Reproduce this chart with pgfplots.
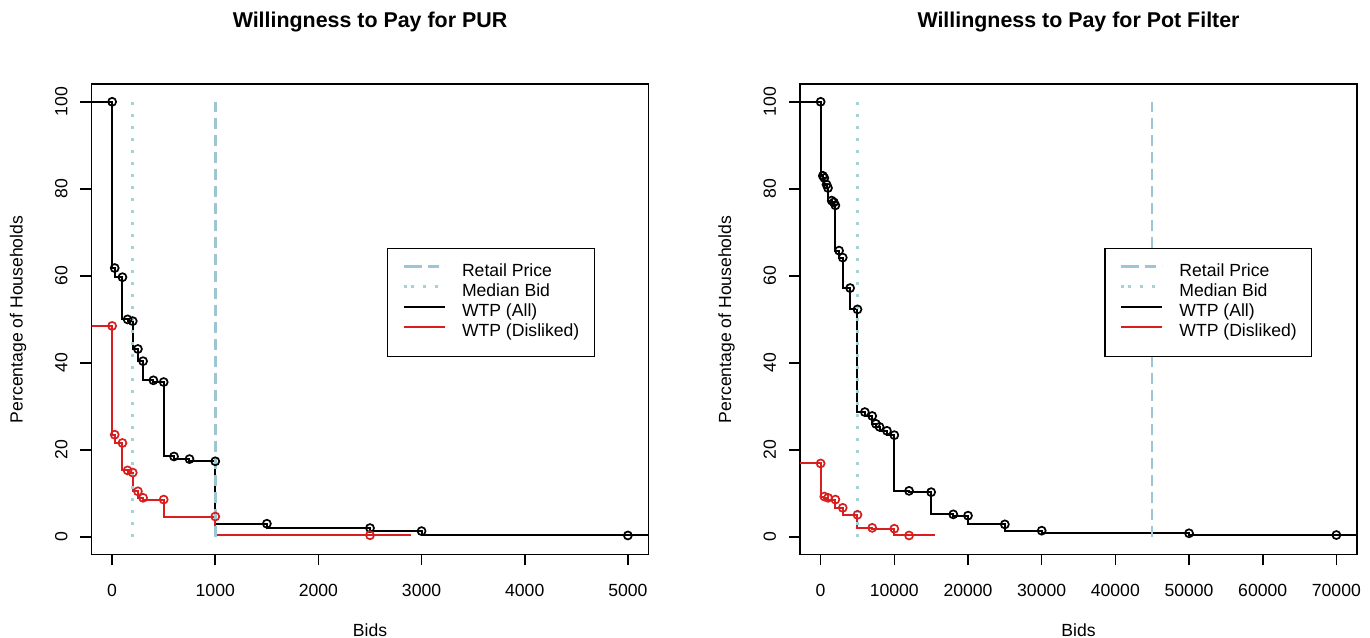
\documentclass[border=0pt]{standalone}
\usepackage{fontspec}
\setmainfont{Liberation Sans}
\usepackage{pgfplots}
\pgfplotsset{compat=1.18}

\definecolor{retailblue}{HTML}{9DC6D2}
\definecolor{medianblue}{HTML}{A3D3D6}
\definecolor{wtpred}{HTML}{D81E1E}

\pgfplotsset{
  wtpbase/.style={
    scale only axis, width=278.5pt, height=235pt,
    anchor=south west,
    ymin=-4, ymax=104, ytick={0,20,40,60,80,100},
    tick pos=left, tick align=outside,
    major tick length=5.5pt,
    every tick/.style={black, line width=0.8pt},
    axis line style={line width=0.9pt},
    font=\fontsize{8.8}{10.5}\selectfont,
    /pgf/number format/assume math mode=true,
    /pgf/number format/1000 sep={},
    scaled x ticks=false,
    xticklabel style={inner sep=0pt},
    xticklabel shift=9pt,
    yticklabel style={rotate=90, anchor=south, inner sep=0pt},
    yticklabel shift=6.3pt,
    xlabel={Bids}, ylabel={Percentage of Households},
    x label style={at={(axis description cs:0.5,0)}, anchor=center, yshift=-37.8pt},
    y label style={at={([xshift=-36.75pt]axis description cs:0,0.5)}, anchor=center},
    title style={at={(axis description cs:0.5,1)}, anchor=center, yshift=25.15pt,
                 font=\fontsize{10.7}{12}\selectfont\bfseries},
    legend style={anchor=north west, draw=black, line width=0.7pt,
                  inner xsep=7.5pt, inner ysep=7pt, row sep=0pt, column sep=8pt,
                  font=\fontsize{8.8}{10.5}\selectfont,
                  nodes={inner sep=0pt, text height=6.7pt, text depth=3.3pt, anchor=west}},
    legend cell align=left,
    legend image code/.code={
      \path (0pt,3pt) -- (3.5pt,3pt);
      \draw[##1] (3.5pt,3pt) -- (20.5pt,3pt);
    },
    legend entries={Retail Price, Median Bid, WTP (All), WTP (Disliked)},
  },
  retail/.style={retailblue, line width=1.3pt, dash pattern=on 5.5pt off 3pt},
  median/.style={medianblue, line width=1.3pt, dash pattern=on 1.4pt off 4.6pt},
  allline/.style={black, line width=1pt},
  disline/.style={wtpred, line width=1pt},
  stepline/.style={const plot mark right, mark=none, forget plot},
  stepmarks/.style={only marks, mark=o, mark size=2pt,
                    mark options={line width=0.85pt}, forget plot},
}

\begin{document}
\begin{tikzpicture}
\path[use as bounding box] (0,0) rectangle (685pt,318.5pt);

% ---- left: PUR ----
\begin{axis}[wtpbase, at={(45.75pt,41.3pt)},
  xmin=-200, xmax=5200, xtick={0,1000,2000,3000,4000,5000},
  title={Willingness to Pay for PUR},
  legend style={at={(0.530,0.652)}}]
\addlegendimage{retail}
\addlegendimage{median}
\addlegendimage{allline}
\addlegendimage{disline}

\addplot[allline, stepline] coordinates {
  (-400,100) (0,100) (25,61.8) (100,59.7) (150,50.0) (200,49.6) (250,43.2)
  (300,40.4) (400,36.0) (500,35.6) (600,18.5) (750,17.9) (1000,17.4)
  (1500,3.05) (2500,2.05) (3000,1.35) (5000,0.35) (6000,0.35)};
\addplot[black, stepmarks] coordinates {
  (0,100) (25,61.8) (100,59.7) (150,50.0) (200,49.6) (250,43.2)
  (300,40.4) (400,36.0) (500,35.6) (600,18.5) (750,17.9) (1000,17.4)
  (1500,3.05) (2500,2.05) (3000,1.35) (5000,0.35)};

\addplot[disline, stepline] coordinates {
  (-400,48.5) (0,48.5) (25,23.5) (100,21.6) (150,15.3) (200,14.8) (250,10.5)
  (300,9.0) (500,8.6) (1000,4.7) (2500,0.4) (2900,0.4)};
\addplot[wtpred, stepmarks] coordinates {
  (0,48.5) (25,23.5) (100,21.6) (150,15.3) (200,14.8) (250,10.5)
  (300,9.0) (500,8.6) (1000,4.7) (2500,0.4)};

\addplot[retail, forget plot] coordinates {(1000,0) (1000,100)};
\addplot[median, forget plot] coordinates {(200,0) (200,100)};
\end{axis}

% ---- right: Pot Filter ----
\begin{axis}[wtpbase, at={(400pt,41.3pt)},
  xmin=-2800, xmax=72800, xtick={0,10000,20000,30000,40000,50000,60000,70000},
  title={Willingness to Pay for Pot Filter},
  legend style={at={(0.546,0.652)}}]
\addlegendimage{retail}
\addlegendimage{median}
\addlegendimage{allline}
\addlegendimage{disline}

\addplot[allline, stepline] coordinates {
  (-5000,100) (0,100) (300,83.0) (500,82.5) (800,81.0) (1000,80.2) (1500,77.3)
  (1800,76.9) (2000,76.2) (2500,65.8) (3000,64.2) (4000,57.2) (5000,52.3)
  (6000,28.7) (7000,27.8) (7500,26.0) (8000,25.3) (9000,24.4) (10000,23.4)
  (12000,10.6) (15000,10.3) (18000,5.2) (20000,4.9) (25000,2.9) (30000,1.45)
  (50000,0.85) (70000,0.45) (80000,0.45)};
\addplot[black, stepmarks] coordinates {
  (0,100) (300,83.0) (500,82.5) (800,81.0) (1000,80.2) (1500,77.3)
  (1800,76.9) (2000,76.2) (2500,65.8) (3000,64.2) (4000,57.2) (5000,52.3)
  (6000,28.7) (7000,27.8) (7500,26.0) (8000,25.3) (9000,24.4) (10000,23.4)
  (12000,10.6) (15000,10.3) (18000,5.2) (20000,4.9) (25000,2.9) (30000,1.45)
  (50000,0.85) (70000,0.45)};

\addplot[disline, stepline] coordinates {
  (-5000,16.9) (0,16.9) (500,9.3) (1000,9.0) (2000,8.6) (3000,6.7) (5000,5.1)
  (7000,2.1) (10000,1.9) (12000,0.35) (15500,0.35)};
\addplot[wtpred, stepmarks] coordinates {
  (0,16.9) (500,9.3) (1000,9.0) (2000,8.6) (3000,6.7) (5000,5.1)
  (7000,2.1) (10000,1.9) (12000,0.35)};

\addplot[retail, forget plot] coordinates {(45000,0) (45000,100)};
\addplot[median, forget plot] coordinates {(5000,0) (5000,100)};
\end{axis}
\end{tikzpicture}
\end{document}
